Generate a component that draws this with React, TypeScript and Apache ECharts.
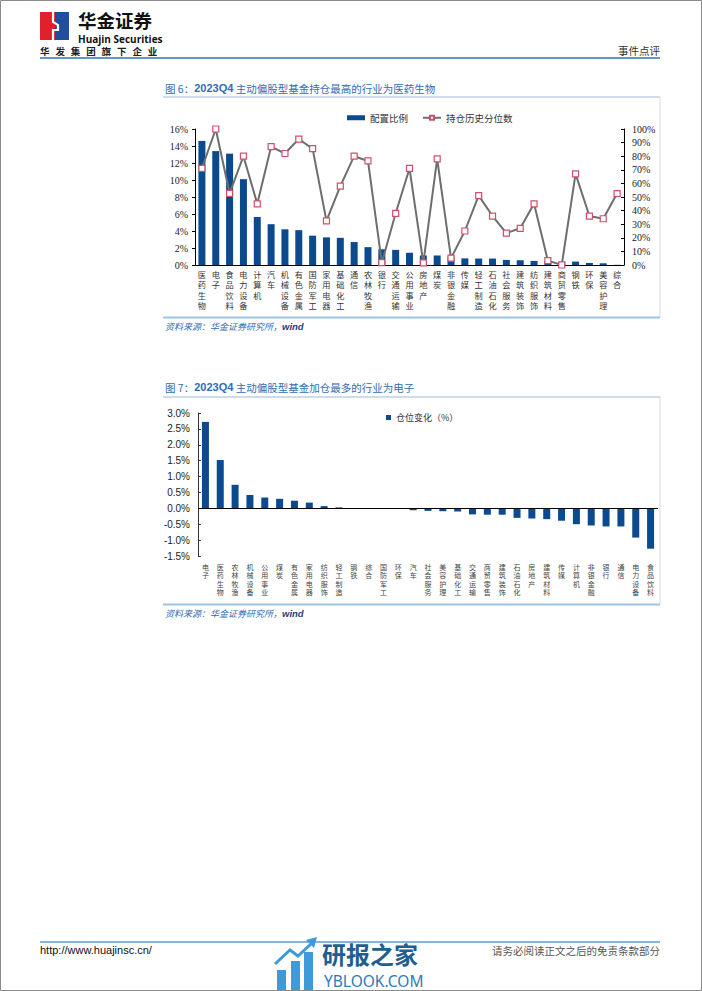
import React, { useEffect, useRef } from 'react';
import * as echarts from 'echarts';

const cats1 = ['医药生物', '电子', '食品饮料', '电力设备', '计算机', '汽车', '机械设备', '有色金属', '国防军工', '家用电器', '基础化工', '通信', '农林牧渔', '银行', '交通运输', '公用事业', '房地产', '煤炭', '非银金融', '传媒', '轻工制造', '石油石化', '社会服务', '建筑装饰', '纺织服饰', '建筑材料', '商贸零售', '钢铁', '环保', '美容护理', '综合'];
const allocRatio = [14.6, 13.4, 13.1, 10.1, 5.65, 4.8, 4.2, 4.1, 3.45, 3.25, 3.2, 2.7, 2.1, 1.85, 1.78, 1.44, 1.12, 1.12, 1.0, 0.78, 0.76, 0.76, 0.6, 0.56, 0.48, 0.44, 0.4, 0.4, 0.24, 0.2, 0.02];
const histPctl = [71, 100, 52.7, 80, 45, 87, 82, 92.6, 85.5, 32.4, 58, 80, 76.5, 1.7, 38, 71, 1.5, 78, 5, 25, 51, 36, 23.5, 27, 45, 3.2, 0, 67, 36, 34, 52.5];

const cats2 = ['电子', '医药生物', '农林牧渔', '机械设备', '公用事业', '煤炭', '有色金属', '家用电器', '纺织服饰', '轻工制造', '钢铁', '综合', '国防军工', '环保', '汽车', '社会服务', '美容护理', '基础化工', '交通运输', '商贸零售', '建筑装饰', '石油石化', '房地产', '建筑材料', '传媒', '计算机', '非银金融', '银行', '通信', '电力设备', '食品饮料'];
const posChange = [2.72, 1.52, 0.74, 0.42, 0.34, 0.3, 0.24, 0.18, 0.07, 0.03, 0.01, 0.005, -0.01, -0.02, -0.06, -0.08, -0.09, -0.1, -0.19, -0.2, -0.2, -0.3, -0.32, -0.34, -0.39, -0.5, -0.54, -0.57, -0.57, -0.92, -1.27];

const headerSlogan = ['华', '发', '集', '团', '旗', '下', '企', '业'];

const CN = '"Noto Sans CJK SC", sans-serif';
const SERIF = '"Liberation Serif", "DejaVu Serif", serif';
const SANS = '"Liberation Sans", Arial, sans-serif';
const BLUE = '#2F6DB5';
const BAR = '#0C4A8F';

const vertical = (v: string) => v.split('').join('\n');

export default function App() {
  const ref = useRef<HTMLDivElement>(null);
  useEffect(() => {
    if (!ref.current) return;
    const chart = echarts.init(ref.current, undefined, { renderer: 'svg' });

    const sloganEls = headerSlogan.map((ch, i) => ({
      type: 'text', x: 40 + i * 15.4, y: 51, silent: true,
      style: { text: ch, fill: '#222', font: `bold 9.5px ${CN}`, textVerticalAlign: 'middle' },
    }));

    const title = (y: number, num: string, rest: string) => ({
      type: 'text', x: 165, y, silent: true,
      style: {
        text: `{a|图 ${num}：}{b|2023Q4}{a| ${rest}}`,
        textVerticalAlign: 'middle',
        rich: {
          a: { fill: BLUE, fontSize: 10.5, fontFamily: CN },
          b: { fill: BLUE, fontSize: 11, fontFamily: SANS, fontWeight: 'bold' },
        },
      },
    });

    const source = (y: number) => ({
      type: 'text', x: 165, y, silent: true,
      style: {
        text: '{a|资料来源：华金证券研究所，}{b|wind}',
        textVerticalAlign: 'middle',
        rich: {
          a: { fill: BLUE, fontSize: 9, fontFamily: CN, fontStyle: 'italic' },
          b: { fill: '#1F3F7A', fontSize: 9.5, fontFamily: SANS, fontStyle: 'italic', fontWeight: 'bold' },
        },
      },
    });

    const hline = (x1: number, x2: number, y: number, color: string, w: number) => ({
      type: 'line', silent: true, shape: { x1, y1: y, x2, y2: y }, style: { stroke: color, lineWidth: w },
    });
    const vline = (x: number, y1: number, y2: number, color: string, w: number) => ({
      type: 'line', silent: true, shape: { x1: x, y1, x2: x, y2 }, style: { stroke: color, lineWidth: w },
    });

    const option: any = {
      animation: false,
      backgroundColor: '#fff',
      graphic: [
        { type: 'rect', silent: true, shape: { x: 0.5, y: 0.5, width: 701, height: 990 }, style: { fill: 'none', stroke: '#8a8a8a', lineWidth: 1 } },
        // logo
        { type: 'rect', silent: true, shape: { x: 40, y: 12, width: 15, height: 28 }, style: { fill: '#E0202A' } },
        { type: 'rect', silent: true, shape: { x: 55, y: 12, width: 14, height: 28 }, style: { fill: '#1E4E9C' } },
        { type: 'polyline', silent: true, shape: { points: [[53, 12], [53, 22], [58, 25], [58, 30], [53, 30], [53, 40]] }, style: { stroke: '#fff', lineWidth: 2.2, fill: 'none' } },
        { type: 'text', x: 78, y: 19.5, silent: true, style: { text: '华金证券', fill: '#111', font: `bold 18.5px ${CN}`, textVerticalAlign: 'middle' } },
        { type: 'text', x: 78, y: 38.5, silent: true, style: { text: 'Huajin Securities', fill: '#111', font: `bold 10px ${'"Open Sans", sans-serif'}`, textVerticalAlign: 'middle' } },
        ...sloganEls,
        { type: 'text', x: 660, y: 50, silent: true, style: { text: '事件点评', fill: '#333', font: `10.5px ${CN}`, textAlign: 'right', textVerticalAlign: 'middle' } },
        hline(40, 660, 58, '#2E75B6', 1.5),
        // chart 1 frame
        title(88, '6', '主动偏股型基金持仓最高的行业为医药生物'),
        hline(163, 660, 97, '#9FB8D3', 1),
        vline(660, 97, 317, '#D8D8D8', 1),
        hline(163, 660, 317.5, '#9DC3E6', 2),
        source(326),
        // chart 2 frame
        title(387, '7', '主动偏股型基金加仓最多的行业为电子'),
        hline(163, 660, 397, '#9FB8D3', 1),
        vline(660, 397, 604, '#D8D8D8', 1),
        hline(163, 660, 604.5, '#9DC3E6', 2),
        source(613),
        // footer
        hline(40, 660, 942, '#5B9BD5', 1.5),
        { type: 'text', x: 40, y: 950, silent: true, style: { text: 'http://www.huajinsc.cn/', fill: '#111', font: `11px ${SANS}`, textVerticalAlign: 'middle' } },
        { type: 'text', x: 660, y: 950, silent: true, style: { text: '请务必阅读正文之后的免责条款部分', fill: '#555', font: `10.5px ${CN}`, textAlign: 'right', textVerticalAlign: 'middle' } },
        // watermark
        { type: 'rect', silent: true, shape: { x: 277, y: 970, width: 9, height: 20 }, style: { fill: '#3C9BD8' } },
        { type: 'rect', silent: true, shape: { x: 291, y: 961, width: 9, height: 29 }, style: { fill: '#3C9BD8' } },
        { type: 'rect', silent: true, shape: { x: 304, y: 952, width: 9, height: 38 }, style: { fill: '#3C9BD8' } },
        { type: 'polyline', silent: true, shape: { points: [[275, 964], [290, 950], [298, 956], [313, 942]] }, style: { stroke: '#3C9BD8', lineWidth: 3, fill: 'none' } },
        { type: 'polygon', silent: true, shape: { points: [[306, 940], [317, 937], [314, 948]] }, style: { fill: '#3C9BD8' } },
        { type: 'text', x: 322, y: 953, silent: true, style: { text: '研报之家', fill: '#1F5E8E', font: `bold 24px ${CN}`, textVerticalAlign: 'middle' } },
        { type: 'text', x: 324, y: 981, silent: true, style: { text: 'YBLOOK.COM', fill: '#2C7DB8', font: `15.5px ${'"Noto Sans", sans-serif'}`, textVerticalAlign: 'middle' } },
      ],
      legend: [
        {
          left: 342, top: 108, itemWidth: 18, itemHeight: 5, itemGap: 14,
          textStyle: { fontSize: 9.5, fontFamily: CN, color: '#333' },
          data: [
            { name: '配置比例', icon: 'rect' },
            { name: '持仓历史分位数' },
          ],
        },
        {
          left: 381, top: 408, itemWidth: 5, itemHeight: 5, itemGap: 10,
          textStyle: { fontSize: 9, fontFamily: CN, color: '#333' },
          data: [{ name: '仓位变化（%）', icon: 'rect' }],
        },
      ],
      grid: [
        { left: 195, top: 129, width: 429, height: 136, outerBoundsMode: 'none' },
        { left: 198, top: 413, width: 460, height: 143, outerBoundsMode: 'none' },
      ],
      xAxis: [
        {
          type: 'category', gridIndex: 0, data: cats1,
          axisLine: { show: true, lineStyle: { color: '#000', width: 1 } },
          axisTick: { show: false },
          axisLabel: { interval: 0, formatter: vertical, fontSize: 8.2, lineHeight: 10.2, color: '#333', fontFamily: CN, margin: 4, verticalAlign: 'top' },
          splitLine: { show: false },
        },
        {
          type: 'category', gridIndex: 1, data: cats2,
          axisLine: { show: false, onZero: false },
          axisTick: { show: false },
          axisLabel: { interval: 0, formatter: vertical, fontSize: 7, lineHeight: 8.2, color: '#444', fontFamily: CN, margin: 7, verticalAlign: 'top' },
          splitLine: { show: false },
        },
      ],
      yAxis: [
        {
          type: 'value', gridIndex: 0, min: 0, max: 16, interval: 2, position: 'left',
          axisLine: { show: true, lineStyle: { color: '#000' } },
          axisTick: { show: true, inside: false, length: 3, lineStyle: { color: '#000' } },
          axisLabel: { formatter: '{value}%', fontSize: 10, fontFamily: SERIF, color: '#222', margin: 7 },
          splitLine: { show: false },
        },
        {
          type: 'value', gridIndex: 0, min: 0, max: 100, interval: 10, position: 'right',
          axisLine: { show: true, lineStyle: { color: '#000' } },
          axisTick: { show: true, inside: true, length: 3, lineStyle: { color: '#000' } },
          axisLabel: { formatter: '{value}%', fontSize: 10, fontFamily: SERIF, color: '#222', margin: 8 },
          splitLine: { show: false },
        },
        {
          type: 'value', gridIndex: 1, min: -1.5, max: 3, interval: 0.5,
          axisLine: { show: true, lineStyle: { color: '#333' } },
          axisTick: { show: true, inside: true, length: 3, lineStyle: { color: '#333' } },
          axisLabel: { formatter: (v: number) => v.toFixed(1) + '%', fontSize: 10, fontFamily: SANS, color: '#222', margin: 8 },
          splitLine: { show: false },
        },
      ],
      series: [
        {
          name: '配置比例', type: 'bar', xAxisIndex: 0, yAxisIndex: 0, data: allocRatio,
          barWidth: 7, itemStyle: { color: BAR }, z: 2,
        },
        {
          name: '持仓历史分位数', type: 'line', xAxisIndex: 0, yAxisIndex: 1, data: histPctl,
          symbol: 'rect', symbolSize: 6, showAllSymbol: true,
          lineStyle: { color: '#6E6E6E', width: 2 },
          itemStyle: { color: '#fff', borderColor: '#D0506A', borderWidth: 1.2 },
          z: 3,
        },
        {
          name: '仓位变化（%）', type: 'bar', xAxisIndex: 1, yAxisIndex: 2, data: posChange,
          barWidth: 7, itemStyle: { color: BAR },
          markLine: {
            silent: true, symbol: 'none', label: { show: false },
            lineStyle: { color: '#000', width: 1, type: 'solid' },
            data: [{ yAxis: 0 }],
          },
        },
      ],
    };
    chart.setOption(option);
    return () => chart.dispose();
  }, []);
  return <div ref={ref} style={{ position: 'absolute', left: 0, top: 0, width: 702, height: 991 }} />;
}
